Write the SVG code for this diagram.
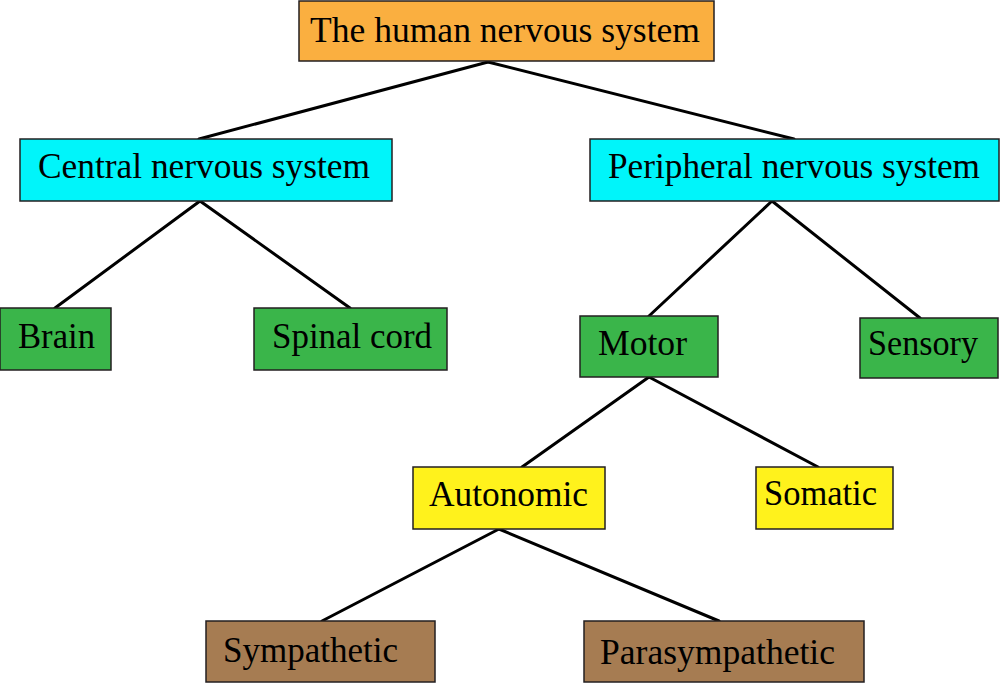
<svg xmlns="http://www.w3.org/2000/svg" width="1000" height="683" viewBox="0 0 1000 683">
<style>
.box{stroke:#231f20;stroke-width:1.5}
.t{font-family:"Liberation Serif","DejaVu Serif",serif;font-size:35px;fill:#000}
.orange{fill:#FAAF40}
.cyan{fill:#00F5FA}
.green{fill:#3AB54A}
.yellow{fill:#FFF21C}
.brown{fill:#A67C52}
.c line{stroke:#000;stroke-width:3;stroke-linecap:round}
</style>
<rect width="1000" height="683" fill="#fff"/>
<g class="c" id="connectors">
<line x1="488" y1="62" x2="199" y2="139"/>
<line x1="488" y1="62" x2="794" y2="139"/>
<line x1="200" y1="201" x2="55" y2="308"/>
<line x1="200" y1="201" x2="350" y2="308"/>
<line x1="772" y1="201" x2="649" y2="316"/>
<line x1="772" y1="201" x2="920" y2="318"/>
<line x1="649" y1="377" x2="522" y2="467"/>
<line x1="649" y1="377" x2="818" y2="467"/>
<line x1="499" y1="529" x2="322" y2="621"/>
<line x1="499" y1="529" x2="719" y2="621"/>
</g>
<g id="n-title"><rect class="box orange" x="299" y="1" width="415" height="60"/><text class="t" x="310" y="42" textLength="390" lengthAdjust="spacingAndGlyphs">The human nervous system</text></g>
<g id="n-central"><rect class="box cyan" x="20" y="139" width="372" height="62"/><text class="t" x="38" y="178" textLength="332" lengthAdjust="spacingAndGlyphs">Central nervous system</text></g>
<g id="n-peripheral"><rect class="box cyan" x="590" y="139" width="409" height="62"/><text class="t" x="608" y="178" textLength="372" lengthAdjust="spacingAndGlyphs">Peripheral nervous system</text></g>
<g id="n-brain"><rect class="box green" x="0" y="308" width="111" height="62"/><text class="t" x="18" y="348" textLength="77" lengthAdjust="spacingAndGlyphs">Brain</text></g>
<g id="n-spinal"><rect class="box green" x="254" y="308" width="193" height="62"/><text class="t" x="272" y="348" textLength="160" lengthAdjust="spacingAndGlyphs">Spinal cord</text></g>
<g id="n-motor"><rect class="box green" x="580" y="316" width="138" height="61"/><text class="t" x="598" y="355" textLength="89" lengthAdjust="spacingAndGlyphs">Motor</text></g>
<g id="n-sensory"><rect class="box green" x="860" y="318" width="138" height="60"/><text class="t" x="868" y="355" textLength="110" lengthAdjust="spacingAndGlyphs">Sensory</text></g>
<g id="n-autonomic"><rect class="box yellow" x="413" y="467" width="192" height="62"/><text class="t" x="429" y="506" textLength="159" lengthAdjust="spacingAndGlyphs">Autonomic</text></g>
<g id="n-somatic"><rect class="box yellow" x="756" y="467" width="137" height="62"/><text class="t" x="764" y="505" textLength="113" lengthAdjust="spacingAndGlyphs">Somatic</text></g>
<g id="n-sympathetic"><rect class="box brown" x="206" y="621" width="229" height="61"/><text class="t" x="223" y="662" textLength="175" lengthAdjust="spacingAndGlyphs">Sympathetic</text></g>
<g id="n-parasympathetic"><rect class="box brown" x="584" y="621" width="280" height="61"/><text class="t" x="600" y="664" textLength="235" lengthAdjust="spacingAndGlyphs">Parasympathetic</text></g>
</svg>
